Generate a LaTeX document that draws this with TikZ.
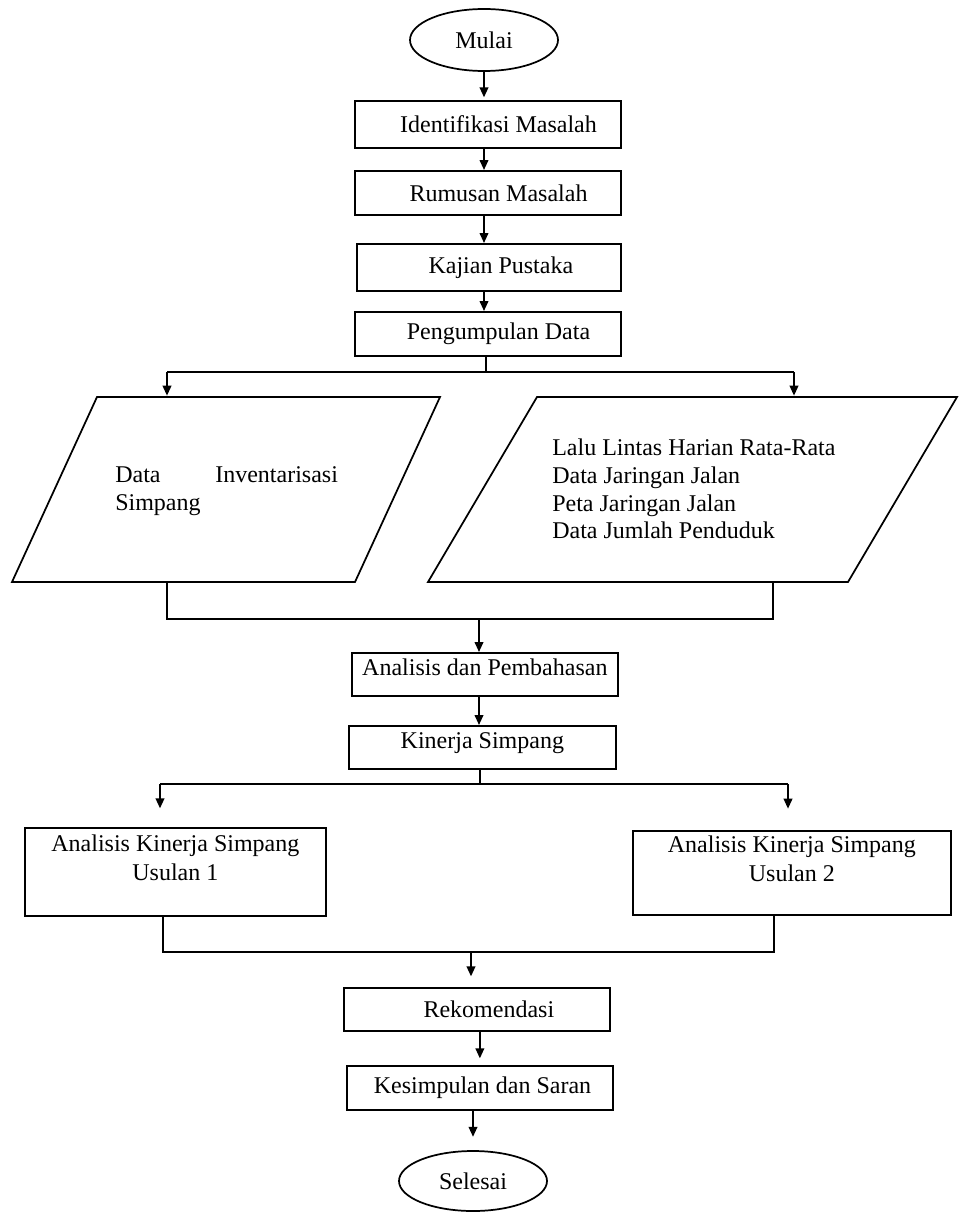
\documentclass[tikz,border=0pt]{standalone}
\usepackage{fontspec}
\setmainfont{Liberation Serif}
\usetikzlibrary{shapes.geometric,arrows.meta}
\begin{document}
\begin{tikzpicture}[x=0.75pt,y=-0.75pt,
  font=\fontsize{18}{21.5}\selectfont,
  ln/.style={line width=1.3pt},
  arr/.style={line width=1.3pt,-{Triangle[length=7.5pt,width=6.5pt]}},
  box/.style={draw,line width=1.3pt,rectangle,anchor=north west,inner sep=0pt,align=center},
  term/.style={draw,line width=1.3pt,ellipse,inner sep=0pt},
  para/.style={draw,line width=1.3pt,line join=miter}]
\fill[white] (0,0) rectangle (960,1213);
\useasboundingbox (0,0) rectangle (960,1213);

% terminals
\node[term,minimum width=111pt,minimum height=46.5pt] (mulai) at (484,40) {Mulai};
\node[term,minimum width=111pt,minimum height=45pt] (selesai) at (473,1181) {Selesai};

% process boxes (top-left corners)
\node[box,minimum width=199.5pt,minimum height=35.25pt] (ident) at (354,100) {\hspace*{16pt}Identifikasi Masalah};
\node[box,minimum width=199.5pt,minimum height=33pt] (rumus) at (354,170) {\hspace*{16pt}Rumusan Masalah};
\node[box,minimum width=198pt,minimum height=35.25pt] (kajian) at (356,243) {\hspace*{18pt}Kajian Pustaka};
\node[box,minimum width=199.5pt,minimum height=33pt] (kumpul) at (354,311) {\hspace*{16pt}Pengumpulan Data};
\node[box,minimum width=199.5pt,minimum height=32.25pt] (anal) at (351,652) {Analisis dan Pembahasan\\[-11pt]\mbox{}};
\node[box,minimum width=200.25pt,minimum height=32.25pt] (kin) at (348,725) {Kinerja Simpang\\[-11pt]\mbox{}};
\node[box,minimum width=225.75pt,minimum height=66pt] (us1) at (24,827) {Analisis Kinerja Simpang\\Usulan 1\\\mbox{}};
\node[box,minimum width=238.5pt,minimum height=63pt] (us2) at (632,830) {Analisis Kinerja Simpang\\Usulan 2\\\mbox{}};
\node[box,minimum width=199.5pt,minimum height=32.25pt] (rekom) at (343,987) {\hspace*{18pt}Rekomendasi};
\node[box,minimum width=199.5pt,minimum height=33pt] (kesim) at (346,1065) {\hspace*{4pt}Kesimpulan dan Saran};

% parallelograms (input data)
\coordinate (p1a) at (97,397);  \coordinate (p1b) at (440,397);
\coordinate (p1c) at (355,582); \coordinate (p1d) at (12,582);
\draw[para] (p1a) -- (p1b) -- (p1c) -- (p1d) -- cycle;
\coordinate (p2a) at (537,397); \coordinate (p2b) at (957,397);
\coordinate (p2c) at (848,582); \coordinate (p2d) at (428,582);
\draw[para] (p2a) -- (p2b) -- (p2c) -- (p2d) -- cycle;
\node[anchor=west,align=left,inner sep=0pt] (t1) at (115,491)
  {\hbox to 167pt{Data\hfill Inventarisasi}\\Simpang};
\node[anchor=west,align=left,inner sep=0pt,font=\fontsize{18}{20.75}\selectfont] (t2) at (552,489)
  {Lalu Lintas Harian Rata-Rata\\Data Jaringan Jalan\\Peta Jaringan Jalan\\Data Jumlah Penduduk};

% branching coordinates
\coordinate (s1) at (486,372);
\coordinate (s1l) at (167,372);
\coordinate (s1r) at (794,372);
\coordinate (in1) at (167,397);
\coordinate (in2) at (794,397);
\coordinate (o1) at (167,582);
\coordinate (o2) at (773,582);
\coordinate (m1l) at (167,619);
\coordinate (m1r) at (773,619);
\coordinate (m1) at (479,619);
\coordinate (s2) at (480,784);
\coordinate (s2l) at (160,784);
\coordinate (s2r) at (788,784);
\coordinate (b1) at (163,915);
\coordinate (b2) at (774,914);
\coordinate (m2l) at (163,952);
\coordinate (m2r) at (774,952);
\coordinate (m2) at (471,952);

% connectors
\draw[arr,shorten >=2pt] (mulai.south) -- (mulai.south |- ident.north);
\draw[arr] (ident.south -| mulai) -- (rumus.north -| mulai);
\draw[arr] (rumus.south -| mulai) -- (kajian.north -| mulai);
\draw[arr] (kajian.south -| mulai) -- (kumpul.north -| mulai);
\draw[ln] (kumpul.south -| s1) -- (s1);
\draw[ln] (s1l) -- (s1r);
\draw[arr,shorten >=1pt] (s1l) -- (in1);
\draw[arr,shorten >=1pt] (s1r) -- (in2);
\draw[ln] (o1) -- (m1l) -- (m1r) -- (o2);
\draw[arr] (m1) -- (m1 |- anal.north);
\draw[arr] (anal.south -| m1) -- (kin.north -| m1);
\draw[ln] (kin.south -| s2) -- (s2);
\draw[ln] (s2l) -- (s2r);
\draw[arr,shorten >=14pt] (s2l) -- (s2l |- us1.north);
\draw[arr,shorten >=16pt] (s2r) -- (s2r |- us2.north);
\draw[ln] (b1) -- (m2l) -- (m2r) -- (b2);
\draw[arr,shorten >=8pt] (m2) -- (m2 |- rekom.north);
\draw[arr,shorten >=5pt] (rekom.south -| kesim) -- (kesim.north);
\draw[arr,shorten >=10pt] (kesim.south -| selesai) -- (selesai.north);
\end{tikzpicture}
\end{document}
